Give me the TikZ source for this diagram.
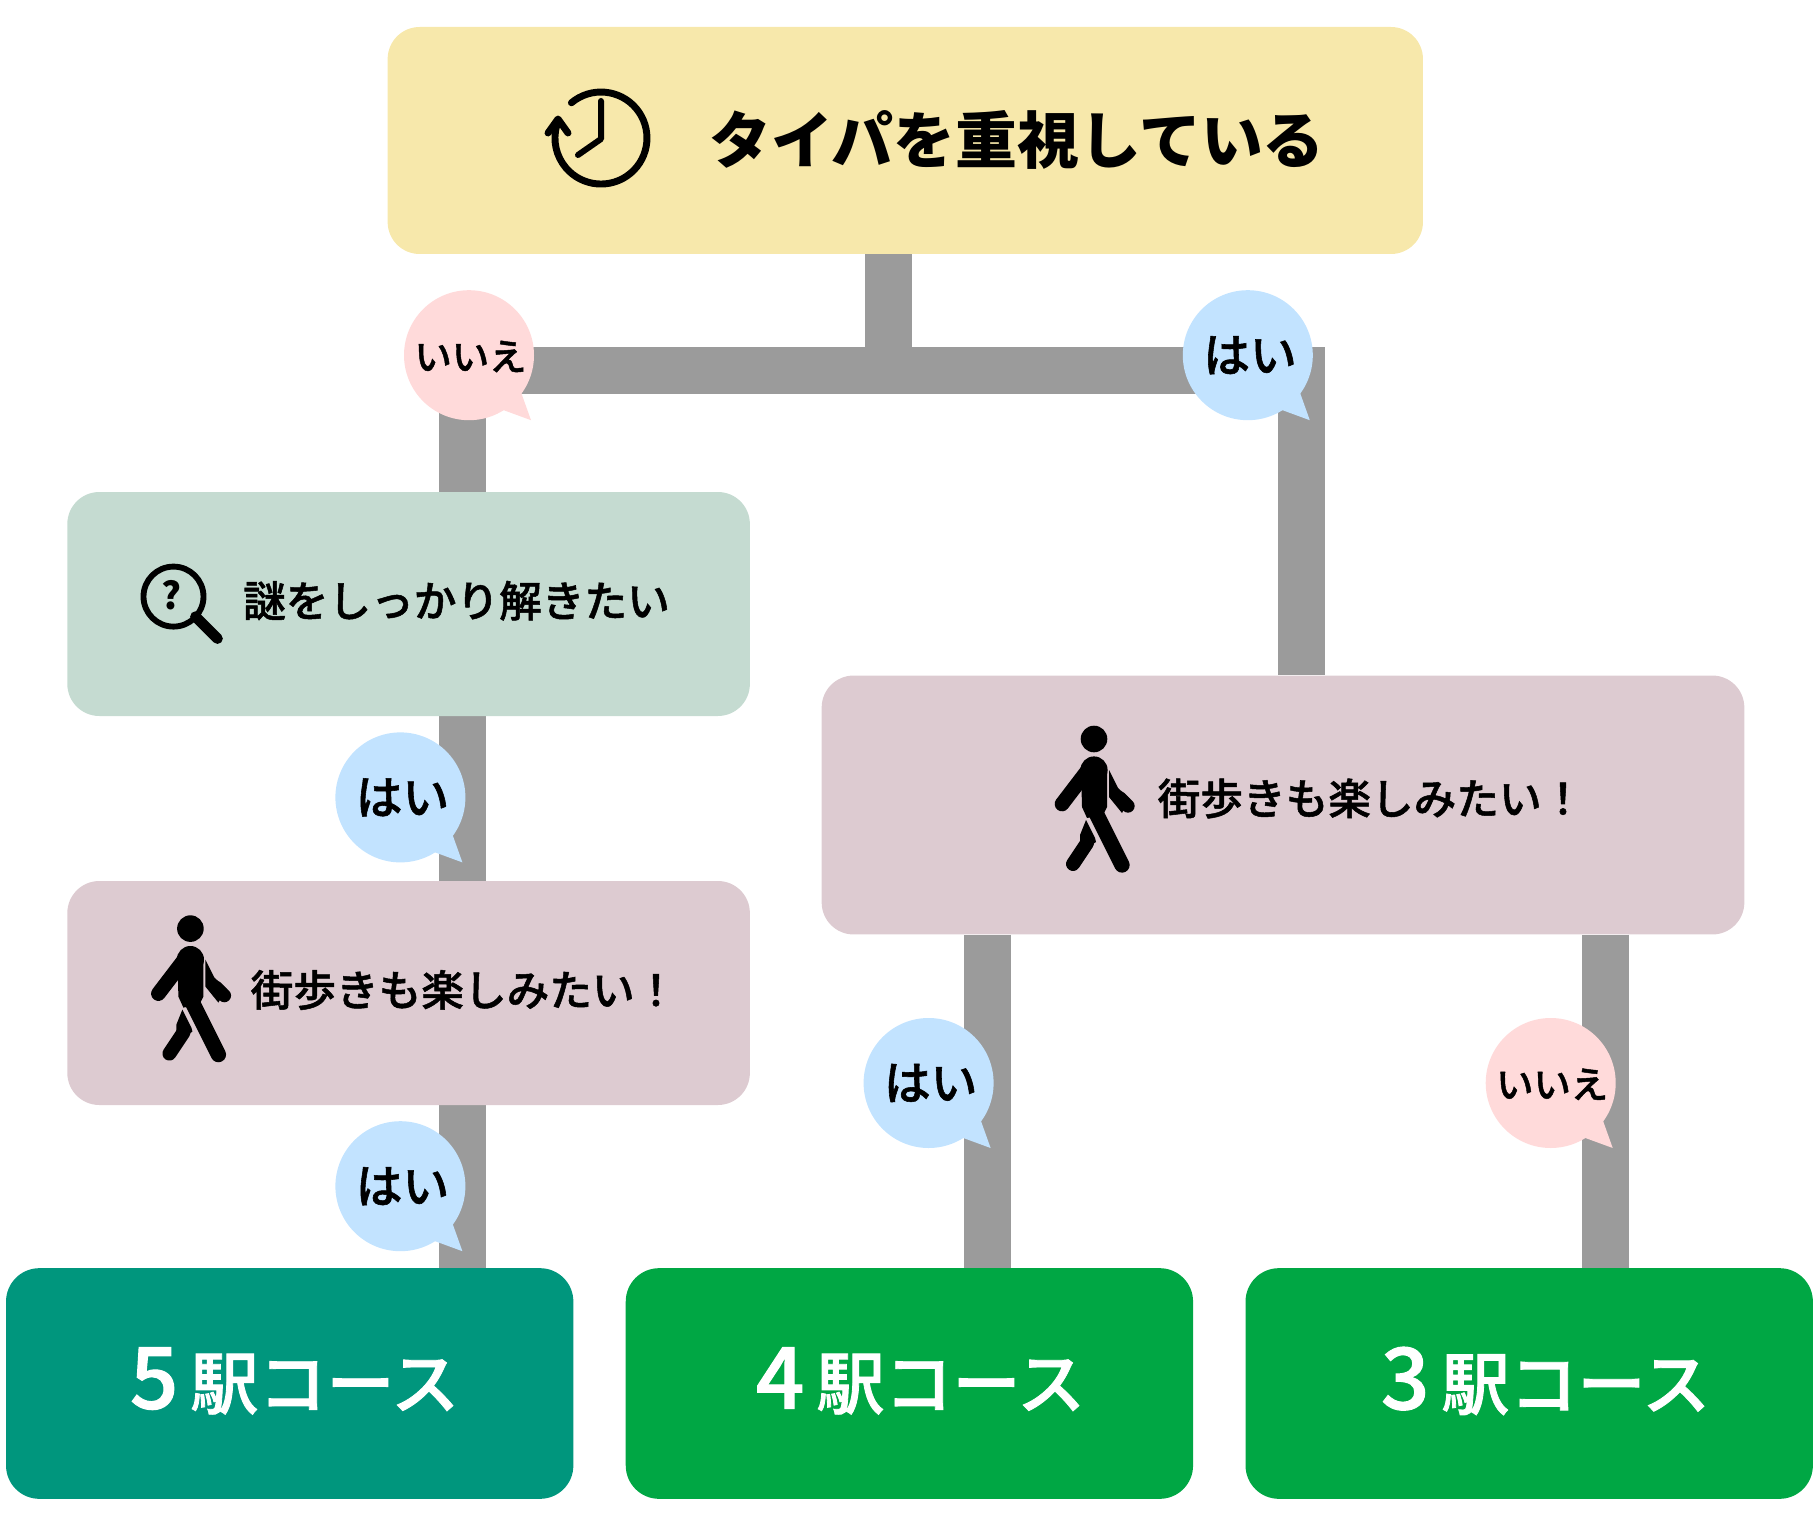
\documentclass[tikz,border=0pt]{standalone}
\usepackage{fontspec}
\newfontfamily\jp{Noto Sans CJK JP}
\newfontfamily\jpm{Noto Sans CJK JP Medium}[FakeBold=1.2]
\usetikzlibrary{backgrounds}
\definecolor{topc}{RGB}{247,232,171}
\definecolor{nazoc}{RGB}{197,219,209}
\definecolor{walkc}{RGB}{221,203,209}
\definecolor{tealc}{RGB}{0,150,125}
\definecolor{greenc}{RGB}{0,167,68}
\definecolor{linec}{RGB}{155,155,155}
\definecolor{yesc}{RGB}{194,227,255}
\definecolor{noc}{RGB}{255,218,218}
\newcommand{\bigdigit}[1]{{\fontsize{64}{50}\selectfont #1}\hspace{9pt}}
\tikzset{
  x=0.75pt,y=-0.75pt,
  boxn/.style={inner sep=0pt,rounded corners=24pt,text=black},
  endn/.style={inner sep=0pt,rounded corners=25pt,minimum width=425.5pt,minimum height=173pt},
  conn/.style={draw=linec,line width=35.25pt,line join=miter},
  bub/.style={circle,inner sep=0pt,minimum size=97.5pt},
  yesb/.style={bub,fill=yesc},
  nob/.style={bub,fill=noc},
  yestext/.style={font=\jpm\fontsize{35}{35}\selectfont,text=black,inner sep=0pt},
  notext/.style={font=\jpm\fontsize{28}{28}\selectfont,text=black,inner sep=0pt},
  midtext/.style={font=\jpm\fontsize{32}{32}\selectfont,text=black,inner sep=0pt},
  endtext/.style={font=\jpm\fontsize{51}{50}\selectfont,text=white,inner sep=0pt},
  walker/.pic={
    \fill[black] (0,0) circle[radius=13.3];
    % torso
    \fill[black] (0,31) circle[radius=13.6];
    \fill[black] (-13,31) -- (13,31) -- (13,68) -- (9,76) -- (-7,79) -- (-12,68) -- cycle;
    % front leg
    \draw[black,line width=11.5pt,line cap=round] (1,72) -- (28,126);
    % back arm
    \draw[black,line width=11pt,line cap=round] (-3,27) -- (-32,65);
    % front arm
    \fill[black] (15,31) -- (24,49) -- (36,60) -- (28,74) -- (15,58) -- cycle;
    \draw[black,line width=10pt,line cap=round] (26,59) -- (34,67);
    % back leg
    \fill[black] (-8,81) -- (1,99) -- (2,103) -- (-14,114) -- (-14,96) -- cycle;
    \draw[black,line width=10.5pt,line cap=round] (-7,104) -- (-21,125);
  },
}
\begin{document}
\begin{tikzpicture}
\useasboundingbox (0,0) rectangle (1820,1526);

% boxes
\node[boxn,fill=topc,minimum width=776.5pt,minimum height=170.25pt] (top) at (905.3,140.5) {};
\node[boxn,fill=nazoc,minimum width=511.9pt,minimum height=168pt] (nazo) at (408.6,604) {};
\node[boxn,fill=walkc,minimum width=511.9pt,minimum height=168pt] (walkL) at (408.6,993) {};
\node[boxn,fill=walkc,minimum width=692pt,minimum height=194.2pt] (walkR) at (1283,805) {};
\node[endn,fill=tealc] (five) at (289.7,1383.5) {};
\node[endn,fill=greenc] (four) at (909.4,1383.5) {};
\node[endn,fill=greenc] (three) at (1529.2,1383.5) {};

% junctions
\coordinate (jc) at (888,370.3);
\coordinate (jl) at (462,370.3);
\coordinate (jr) at (1301.2,370.3);
\coordinate (ja) at (987.2,900);
\coordinate (jb) at (1605,900);

\begin{scope}[on background layer]
  \draw[conn] (jc |- top.south) -- (jc);
  \draw[conn] (jl |- nazo.north) -- (jl) -- (jr) -- (jr |- walkR.north);
  \draw[conn] (jl |- nazo.south) -- (jl |- walkL.north);
  \draw[conn] (jl |- walkL.south) -- (jl |- five.north);
  \draw[conn] (ja |- walkR.south) -- (ja |- four.north);
  \draw[conn] (jb |- walkR.south) -- (jb |- three.north);
\end{scope}

% bubbles
\node[nob] (b1) at (469,355.2) {};
\fill[noc] (b1.center) ++(52,37) -- ++(10,28) -- ++(-30,-11) -- cycle;
\node[notext] (b1t) at (470.5,356.5) {いいえ};
\node[yesb] (b2) at (1247.8,355.2) {};
\fill[yesc] (b2.center) ++(52,37) -- ++(10,28) -- ++(-30,-11) -- cycle;
\node[yestext] (b2t) at (1250,355.2) {はい};
\node[yesb] (b3) at (400.4,797.4) {};
\fill[yesc] (b3.center) ++(52,37) -- ++(10,28) -- ++(-30,-11) -- cycle;
\node[yestext] (b3t) at (402.5,797.4) {はい};
\node[yesb] (b4) at (400.4,1186.2) {};
\fill[yesc] (b4.center) ++(52,37) -- ++(10,28) -- ++(-30,-11) -- cycle;
\node[yestext] (b4t) at (402.5,1186.2) {はい};
\node[yesb] (b5) at (928.6,1083) {};
\fill[yesc] (b5.center) ++(52,37) -- ++(10,28) -- ++(-30,-11) -- cycle;
\node[yestext] (b5t) at (930.7,1083) {はい};
\node[nob] (b6) at (1550.7,1083) {};
\fill[noc] (b6.center) ++(52,37) -- ++(10,28) -- ++(-30,-11) -- cycle;
\node[notext] (b6t) at (1552.2,1084.3) {いいえ};

% texts
\node[font=\jp\bfseries\fontsize{46.4}{47}\selectfont,inner sep=0pt] (t1) at (1017,139.5) {タイパを重視している};
\node[midtext] (t2) at (456.5,600.7) {謎をしっかり解きたい};
\node[midtext] (t3) at (464,990) {街歩きも楽しみたい！};
\node[midtext] (t4) at (1371,798.5) {街歩きも楽しみたい！};
\node[endtext] (t5) at (294.5,1381) {\bigdigit{5}駅コース};
\node[endtext] (t6) at (920.5,1381) {\bigdigit{4}駅コース};
\node[endtext] (t7) at (1545.5,1381) {\bigdigit{3}駅コース};

% clock icon
\coordinate (clk) at (601,138);
\draw[black,line width=5.2pt,line cap=round,line join=round]
  (clk) ++(-29.6,-35.2) arc[start angle=130,end angle=-195,radius=34.5pt];
\draw[black,line width=5.2pt,line cap=round,line join=round]
  (clk) ++(-53,-5) -- ++(10,-14) -- ++(10,14);
\draw[black,line width=4.5pt,line cap=round,line join=round]
  (clk) ++(0,-37) -- ++(0,38) -- ++(-23,16);

% magnifier icon
\coordinate (mag) at (173.5,596.6);
\draw[black,line width=4.4pt] (mag) circle[radius=30];
\draw[black,line width=8pt,line cap=round] (mag) ++(22,20) -- ++(22,22);
\node[font=\jp\bfseries\fontsize{28}{28}\selectfont,inner sep=0pt] (q) at (172,595) {?};

% walkers
\pic at (190.4,928.6) {walker};
\pic at (1094,739) {walker};
\end{tikzpicture}
\end{document}
